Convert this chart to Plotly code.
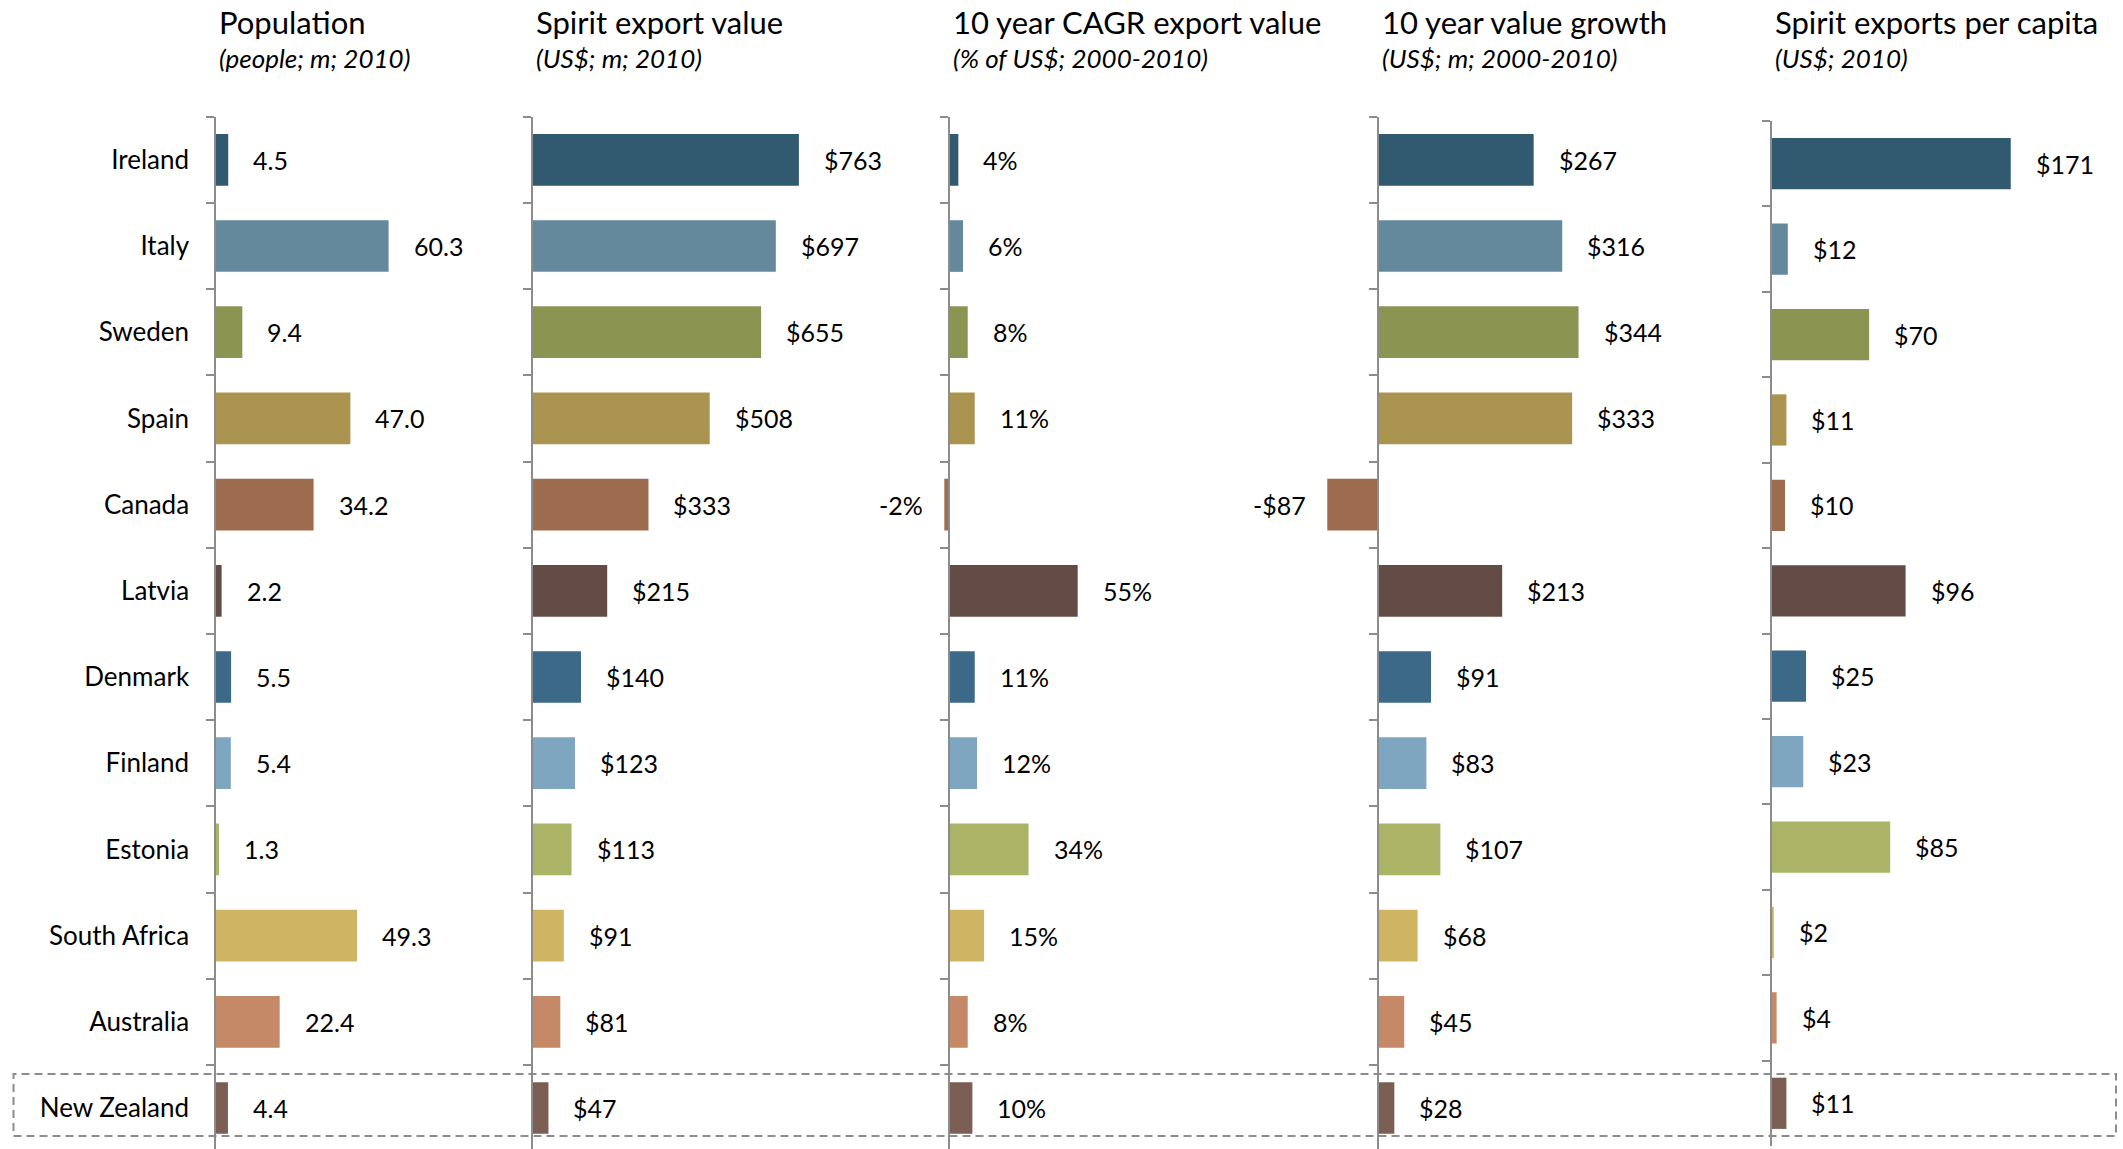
import plotly.graph_objects as go

# ---- data -------------------------------------------------------------
countries = ["Ireland", "Italy", "Sweden", "Spain", "Canada", "Latvia", "Denmark",
             "Finland", "Estonia", "South Africa", "Australia", "New Zealand"]
population = [4.5, 60.3, 9.4, 47.0, 34.2, 2.2, 5.5, 5.4, 1.3, 49.3, 22.4, 4.4]
export_value = [763, 697, 655, 508, 333, 215, 140, 123, 113, 91, 81, 47]
cagr_pct = [4, 6, 8, 11, -2, 55, 11, 12, 34, 15, 8, 10]
value_growth = [267, 316, 344, 333, -87, 213, 91, 83, 107, 68, 45, 28]
per_capita = [171, 12, 70, 11, 10, 96, 25, 23, 85, 2, 4, 11]

titles = ["Population", "Spirit export value", "10 year CAGR export value",
          "10 year value growth", "Spirit exports per capita"]
subtitles = ["(people; m; 2010)", "(US$; m; 2010)", "(% of US$; 2000-2010)",
             "(US$; m; 2000-2010)", "(US$; 2010)"]

country_colors = ["#31596F", "#64889C", "#8B9551", "#AB944F", "#9D6C4F", "#634C46",
                  "#3C6987", "#7EA6C1", "#ABB466", "#CFB463", "#C68967", "#7B5F55"]

# ---- layout geometry (pixels on a 2123 x 1149 page) -------------------
W, H = 2123, 1149
FONT = "Lato, 'Open Sans', sans-serif"
AXIS_GREY = "#8C8C8C"


def money(v):
    return ("-$%d" % -v) if v < 0 else ("$%d" % v)


panels = [
    # values, label formatter, zero x (px), px per unit, left px, right px
    dict(vals=population, fmt=lambda v: "%.1f" % v, zero=215.3, ppu=2.874, left=215.3, right=510),
    dict(vals=export_value, fmt=money, zero=532.0, ppu=0.3498, left=532.0, right=920),
    dict(vals=cagr_pct, fmt=lambda v: "%d%%" % v, zero=949.0, ppu=2.34, left=935, right=1330),
    dict(vals=value_growth, fmt=money, zero=1378.0, ppu=0.583, left=1320, right=1740),
    dict(vals=per_capita, fmt=money, zero=1771.0, ppu=1.402, left=1771.0, right=2123),
]

fig = go.Figure()
annotations = []

n = len(countries)
for i, p in enumerate(panels, start=1):
    xa = "x" if i == 1 else "x%d" % i
    ya = "y" if i == 1 else "y%d" % i
    fig.add_trace(go.Bar(
        x=p["vals"], y=countries, orientation="h",
        marker=dict(color=country_colors, line=dict(width=0)),
        xaxis=xa, yaxis=ya, hoverinfo="x+y", showlegend=False,
    ))

    x_min = -(p["zero"] - p["left"]) / p["ppu"]
    x_max = (p["right"] - p["zero"]) / p["ppu"]
    xkey = "xaxis" if i == 1 else "xaxis%d" % i
    ykey = "yaxis" if i == 1 else "yaxis%d" % i

    if i == 5:
        ytop, ybot = 121.0, 1146.0
        y_range = [n - 0.5, -0.5]
    else:
        ytop, ybot = 116.7, float(H)
        y_range = [n - 0.5 - 2.1 / 86.2, -0.5]

    fig.layout[xkey] = dict(
        domain=[p["left"] / W, p["right"] / W], range=[x_min, x_max],
        visible=False, anchor=ya, fixedrange=True,
    )
    fig.layout[ykey] = dict(
        domain=[1 - ybot / H, 1 - ytop / H],
        type="category", categoryorder="array", categoryarray=countries,
        range=y_range, anchor="free", position=p["zero"] / W,
        showline=True, linecolor=AXIS_GREY, linewidth=2,
        ticks="outside", tickson="boundaries", ticklen=8, tickwidth=2, tickcolor=AXIS_GREY,
        showticklabels=(i == 1), ticklabelstandoff=20,
        tickfont=dict(family=FONT, size=26, color="#000000"),
        showgrid=False, zeroline=False, fixedrange=True,
    )

    # value labels beside each bar
    for c, v in zip(countries, p["vals"]):
        annotations.append(dict(
            x=v, y=c, xref=xa, yref=ya, text=p["fmt"](v), showarrow=False,
            xanchor="left" if v >= 0 else "right", xshift=23 if v >= 0 else -19,
            font=dict(family=FONT, size=25, color="#000000"),
        ))

    # panel heading and units line
    annotations.append(dict(
        x=p["zero"] / W, y=1 - 22 / H, xref="paper", yref="paper", text=titles[i - 1],
        showarrow=False, xanchor="left", yanchor="middle", xshift=2,
        font=dict(family=FONT, size=31, color="#000000"),
    ))
    annotations.append(dict(
        x=p["zero"] / W, y=1 - 58 / H, xref="paper", yref="paper",
        text="<i>%s</i>" % subtitles[i - 1],
        showarrow=False, xanchor="left", yanchor="middle", xshift=2,
        font=dict(family=FONT, size=26, color="#000000"),
    ))

# dashed frame highlighting the New Zealand row
shapes = [dict(
    type="rect", xref="paper", yref="paper",
    x0=13.5 / W, x1=2116 / W, y0=1 - 1136 / H, y1=1 - 1074 / H,
    line=dict(color="#8C8C8C", width=2, dash="8px,5px"), fillcolor="rgba(0,0,0,0)",
    layer="above",
)]

fig.update_layout(
    width=W, height=H, margin=dict(l=0, r=0, t=0, b=0),
    paper_bgcolor="#FFFFFF", plot_bgcolor="rgba(0,0,0,0)",
    bargap=0.4, annotations=annotations, shapes=shapes,
    font=dict(family=FONT, color="#000000"),
)

fig.write_html("out.html")
